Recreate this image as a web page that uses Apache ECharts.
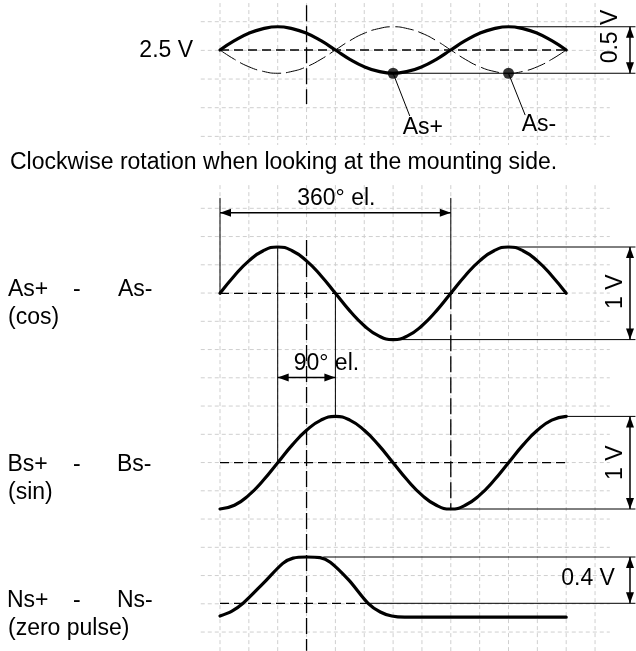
<!DOCTYPE html>
<html>
<head>
<meta charset="utf-8">
<script src="https://cdn.jsdelivr.net/npm/echarts@6/dist/echarts.min.js"></script>
<style>
  html, body { margin: 0; padding: 0; background: #fff; }
  #chart { width: 636px; height: 651px; }
</style>
</head>
<body>
<div id="chart"></div>
<script>
  // 电角度采样点 (°el.)
  const phaseDeg = [0, 22.5, 45, 67.5, 90, 112.5, 135, 157.5, 180, 202.5, 225, 247.5, 270,
    292.5, 315, 337.5, 360, 382.5, 405, 427.5, 450, 472.5, 495, 517.5, 540]
  // 单端信号 As+ / As- (V)
  const asPlusV = [2.5, 2.6, 2.68, 2.73, 2.75, 2.73, 2.68, 2.6, 2.5, 2.4, 2.32, 2.27, 2.25,
    2.27, 2.32, 2.4, 2.5, 2.6, 2.68, 2.73, 2.75, 2.73, 2.68, 2.6, 2.5]
  const asMinusV = [2.5, 2.4, 2.32, 2.27, 2.25, 2.27, 2.32, 2.4, 2.5, 2.6, 2.68, 2.73, 2.75,
    2.73, 2.68, 2.6, 2.5, 2.4, 2.32, 2.27, 2.25, 2.27, 2.32, 2.4, 2.5]
  // 差分信号 (V)
  const cosDiffV = [0, 0.19, 0.35, 0.46, 0.5, 0.46, 0.35, 0.19, 0, -0.19, -0.35, -0.46, -0.5,
    -0.46, -0.35, -0.19, 0, 0.19, 0.35, 0.46, 0.5, 0.46, 0.35, 0.19, 0]
  const sinDiffV = [-0.5, -0.46, -0.35, -0.19, 0, 0.19, 0.35, 0.46, 0.5, 0.46, 0.35, 0.19, 0,
    -0.19, -0.35, -0.46, -0.5, -0.46, -0.35, -0.19, 0, 0.19, 0.35, 0.46, 0.5]
  // 零位脉冲
  const pulseDeg = [0, 18, 36, 67, 98, 114, 135, 156, 172, 201, 231, 250, 268, 288, 540]
  const pulseV = [-0.11, -0.07, 0, 0.17, 0.345, 0.39, 0.4, 0.395, 0.355, 0.2, 0, -0.075, -0.11, -0.12, -0.12]
  // 测量点 As+ / As-
  const probeDeg = [270, 450]
  const probeV = [2.25, 2.25]
  // 方格纸
  const paperColsDeg = [0, 45, 90, 135, 180, 225, 270, 315, 360, 405, 450, 495, 540, 585]
  const paperRowsTop = [0, 1, 2, 3, 4]
  const paperRowsMain = [0, 1, 2, 3, 4, 5, 6, 7, 8, 9, 10, 11, 12, 13, 14, 15]

  // 版面
  const W = 636, H = 651
  const X0 = 220, PX_PER_DEG = 28.85 / 45
  const FONT = '23px "Liberation Sans", Arial, sans-serif'
  const BLACK = '#000'

  // 纵轴: v0 位于像素 p0, 每单位 pxPerUnit 像素
  const valueAxis = (v0, p0, pxPerUnit, inverse) => inverse
    ? { type: 'value', show: false, inverse: true, min: v0 - p0 / pxPerUnit, max: v0 + (H - p0) / pxPerUnit }
    : { type: 'value', show: false, min: v0 - (H - p0) / pxPerUnit, max: v0 + p0 / pxPerUnit }

  const Y_TOP = 0, Y_COS = 1, Y_SIN = 2, Y_ZERO = 3, Y_PAPER_TOP = 4, Y_PAPER_MAIN = 5

  // 折线
  const wave = (yIdx, xs, ys, width, dash, smooth) => ({
    type: 'line', xAxisIndex: 0, yAxisIndex: yIdx, silent: true, clip: false, z: 5,
    data: xs.map((x, i) => [x, ys[i]]),
    smooth: smooth, symbol: 'none',
    lineStyle: { color: BLACK, width: width, type: dash || 'solid', cap: 'round' }
  })

  // 线段 [x1, y1, x2, y2]
  const segs = (yIdx, items, style, z) => ({
    type: 'custom', xAxisIndex: 0, yAxisIndex: yIdx, silent: true, clip: false, z: z || 4,
    data: items,
    renderItem: (params, api) => {
      const a = api.coord([api.value(0), api.value(1)])
      const b = api.coord([api.value(2), api.value(3)])
      return { type: 'line', shape: { x1: a[0], y1: a[1], x2: b[0], y2: b[1] }, style: style }
    }
  })

  const head = (tip, from) => {
    const dx = tip[0] - from[0], dy = tip[1] - from[1]
    const d = Math.hypot(dx, dy), ux = dx / d, uy = dy / d
    const bx = tip[0] - ux * 11, by = tip[1] - uy * 11
    return {
      type: 'polygon',
      shape: { points: [tip, [bx - uy * 4, by + ux * 4], [bx + uy * 4, by - ux * 4]] },
      style: { fill: BLACK }
    }
  }

  // 双向箭头
  const arrows = (yIdx, items) => ({
    type: 'custom', xAxisIndex: 0, yAxisIndex: yIdx, silent: true, clip: false, z: 6,
    data: items,
    renderItem: (params, api) => {
      const a = api.coord([api.value(0), api.value(1)])
      const b = api.coord([api.value(2), api.value(3)])
      return {
        type: 'group',
        children: [
          { type: 'line', shape: { x1: a[0], y1: a[1], x2: b[0], y2: b[1] }, style: { stroke: BLACK, lineWidth: 1.5 } },
          head(a, b), head(b, a)
        ]
      }
    }
  })

  // 文字标注
  const notes = (yIdx, list) => ({
    type: 'custom', xAxisIndex: 0, yAxisIndex: yIdx, silent: true, clip: false, z: 7,
    data: list.map(n => [n.x, n.y]),
    renderItem: (params, api) => {
      const n = list[params.dataIndex]
      const p = api.coord([api.value(0), api.value(1)])
      return {
        type: 'text', x: p[0], y: p[1], rotation: n.rot || 0,
        style: { text: n.text, font: FONT, fill: BLACK, align: n.align || 'center', verticalAlign: 'middle' }
      }
    }
  })

  const thin = { stroke: BLACK, lineWidth: 1 }
  const dashH = { stroke: BLACK, lineWidth: 1.3, lineDash: [9, 5] }
  const dashV = { stroke: BLACK, lineWidth: 1.3, lineDash: [16, 5] }
  const paper = { stroke: '#cfcfcf', lineWidth: 1, lineDash: [4, 3] }

  const paperLines = (rows, rowFrom, rowTo) => [
    ...paperColsDeg.map(c => [c, rowFrom, c, rowTo]),
    ...rows.map(r => [-30, r, 608, r])
  ]

  const option = {
    animation: false,
    grid: { left: 0, top: 0, width: W, height: H },
    xAxis: { type: 'value', show: false, min: -X0 / PX_PER_DEG, max: (W - X0) / PX_PER_DEG },
    yAxis: [
      valueAxis(2.5, 50, 93),
      valueAxis(0, 293.3, 92.6),
      valueAxis(0, 462.7, 92.6),
      valueAxis(0, 603.3, 115.75),
      valueAxis(0, 21.7, 28.67, true),
      valueAxis(0, 208.3, 28.25, true)
    ],
    graphic: [
      { type: 'text', x: 10, y: 163, style: { text: 'Clockwise rotation when looking at the mounting side.', font: FONT, fill: BLACK, verticalAlign: 'middle' } },
      { type: 'text', x: 8, y: 290, style: { text: 'As+', font: FONT, fill: BLACK, verticalAlign: 'middle' } },
      { type: 'text', x: 73, y: 290, style: { text: '-', font: FONT, fill: BLACK, verticalAlign: 'middle' } },
      { type: 'text', x: 118, y: 290, style: { text: 'As-', font: FONT, fill: BLACK, verticalAlign: 'middle' } },
      { type: 'text', x: 8, y: 318, style: { text: '(cos)', font: FONT, fill: BLACK, verticalAlign: 'middle' } },
      { type: 'text', x: 7.5, y: 465, style: { text: 'Bs+', font: FONT, fill: BLACK, verticalAlign: 'middle' } },
      { type: 'text', x: 73, y: 465, style: { text: '-', font: FONT, fill: BLACK, verticalAlign: 'middle' } },
      { type: 'text', x: 117, y: 465, style: { text: 'Bs-', font: FONT, fill: BLACK, verticalAlign: 'middle' } },
      { type: 'text', x: 8, y: 493, style: { text: '(sin)', font: FONT, fill: BLACK, verticalAlign: 'middle' } },
      { type: 'text', x: 7, y: 601, style: { text: 'Ns+', font: FONT, fill: BLACK, verticalAlign: 'middle' } },
      { type: 'text', x: 73, y: 601, style: { text: '-', font: FONT, fill: BLACK, verticalAlign: 'middle' } },
      { type: 'text', x: 117, y: 601, style: { text: 'Ns-', font: FONT, fill: BLACK, verticalAlign: 'middle' } },
      { type: 'text', x: 8, y: 629, style: { text: '(zero pulse)', font: FONT, fill: BLACK, verticalAlign: 'middle' } }
    ],
    series: [
      // 方格纸
      segs(Y_PAPER_TOP, paperLines(paperRowsTop, -0.65, 4.3), paper, 1),
      segs(Y_PAPER_MAIN, paperLines(paperRowsMain, -0.82, 15.7), paper, 1),

      // 上部: As+ / As-
      wave(Y_TOP, phaseDeg, asPlusV, 3.2, 'solid', true),
      wave(Y_TOP, phaseDeg, asMinusV, 1, [18, 6], true),
      segs(Y_TOP, [[0, 2.5, 540, 2.5]], dashH),
      segs(Y_TOP, [[135, 2.98, 135, 1.92]], dashV),
      segs(Y_TOP, [[450, 2.75, 648, 2.75], [270, 2.25, 648, 2.25], [270, 2.25, 296, 1.79], [450, 2.25, 476, 1.80]], thin),
      arrows(Y_TOP, [[639.5, 2.75, 639.5, 2.25]]),
      {
        type: 'scatter', xAxisIndex: 0, yAxisIndex: Y_TOP, silent: true, z: 8,
        data: probeDeg.map((x, i) => [x, probeV[i]]),
        symbolSize: 11, itemStyle: { color: BLACK }
      },
      notes(Y_TOP, [
        { text: '2.5 V', x: -42, y: 2.49, align: 'right' },
        { text: '0.5 V', x: 610, y: 2.645, rot: Math.PI / 2 },
        { text: 'As+', x: 285, y: 1.667, align: 'left' },
        { text: 'As-', x: 470.6, y: 1.70, align: 'left' }
      ]),

      // As+ - As- (cos)
      wave(Y_COS, phaseDeg, cosDiffV, 3.2, 'solid', true),
      segs(Y_COS, [[0, 0, 540, 0]], dashH),
      segs(Y_COS, [[135, 0.575, 135, -3.86], [360, 0, 360, -2.33]], dashV),
      segs(Y_COS, [
        [0, 1.03, 0, 0], [360, 1.03, 360, 0],
        [90, 0.5, 90, -1.83], [180, 0, 180, -1.33],
        [450, 0.5, 648, 0.5], [270, -0.5, 648, -0.5]
      ], thin),
      arrows(Y_COS, [[0, 0.87, 360, 0.87], [639.5, 0.5, 639.5, -0.5]]),
      notes(Y_COS, [
        { text: '360° el.', x: 181.5, y: 1.024 },
        { text: '1 V', x: 617, y: 0.017, rot: Math.PI / 2 }
      ]),

      // Bs+ - Bs- (sin)
      wave(Y_SIN, phaseDeg, sinDiffV, 3.2, 'solid', true),
      segs(Y_SIN, [[0, 0, 540, 0]], dashH),
      segs(Y_SIN, [[540, 0.5, 648, 0.5], [360, -0.5, 648, -0.5]], thin),
      arrows(Y_SIN, [[90, 0.92, 180, 0.92], [639.5, 0.5, 639.5, -0.5]]),
      notes(Y_SIN, [
        { text: '90° el.', x: 166, y: 1.071 },
        { text: '1 V', x: 617, y: 0, rot: Math.PI / 2 }
      ]),

      // Ns+ - Ns- (zero pulse)
      wave(Y_ZERO, pulseDeg, pulseV, 3.2, 'solid', 0.3),
      segs(Y_ZERO, [[0, 0, 229, 0]], dashH),
      segs(Y_ZERO, [[229, 0, 648, 0], [161, 0.4, 648, 0.4]], thin),
      arrows(Y_ZERO, [[639.5, 0.4, 639.5, 0]]),
      notes(Y_ZERO, [
        { text: '0.4 V', x: 616, y: 0.214, align: 'right' }
      ])
    ]
  }

  const chart = echarts.init(document.getElementById('chart'))
  chart.setOption(option)
  window.addEventListener('resize', () => chart.resize())
</script>
</body>
</html>
